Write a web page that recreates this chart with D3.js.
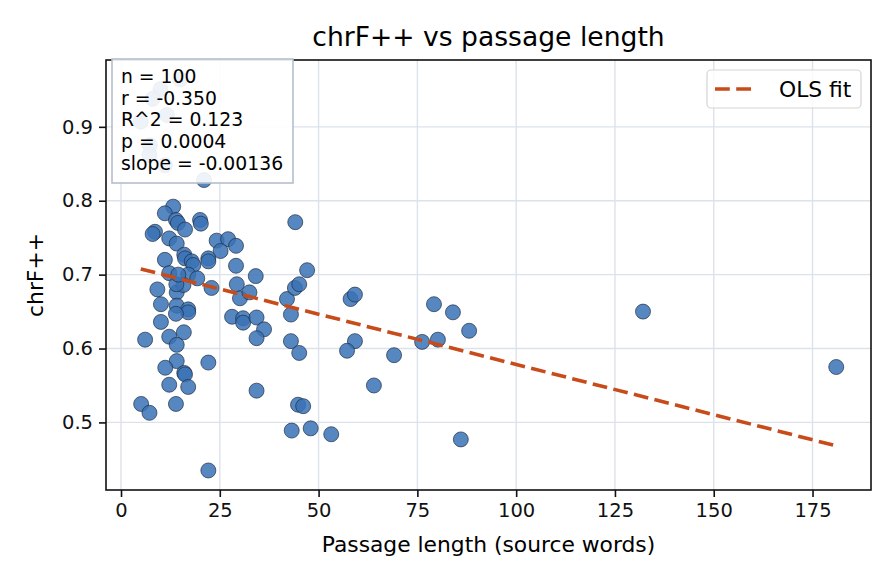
<!DOCTYPE html>
<html lang="en">
<head>
    <meta charset="UTF-8">
    <title>chrF++ vs passage length</title>
    <script src="https://d3js.org/d3.v7.min.js"></script>
    <style>
        body { margin: 0; background: #fff; }
        svg { font-family: "DejaVu Sans", sans-serif; }
    </style>
</head>
<body>
    <svg id="chart" width="896" height="584"></svg>

<script>
    // Data: passage length (source words) and chrF++
    var lengths = [
        15, 10, 8, 11.6, 5, 7.3, 7.2, 11.1,
        21, 13.2, 11.1, 13.9, 14.4, 20, 20.2, 16.2, 8.6, 8, 12.2, 14.1,
        24.2, 27.1, 25.2, 29.1, 11.1, 16, 16.2, 17.9, 18.3, 22.1, 22.1, 29.1,
        12.2, 17, 19.3, 34.1, 44.1, 47.1,
        9.2, 14.1, 15.8, 14, 22.9, 29.3, 30.1, 32.5, 10.1, 14.1, 17, 17, 13.9,
        28.1, 30.9, 30.9, 10.1, 15.9, 12.2, 6.1, 14.1, 14.1, 11.2, 16, 16.2,
        22.1, 12.2, 17, 5.1, 7.2, 13.9, 22.1,
        34.3, 36.2, 34.3, 42, 44, 45.1, 43, 43, 45.1, 34.3, 44.8, 46.1,
        58.1, 59.2, 59.2, 57.2, 64, 43.2, 48, 53.2,
        79.2, 84, 88.1, 76.2, 80.2, 69.1, 86, 132.1, 181, 14.5
    ];
    var scores = [
        0.964, 0.951, 0.938, 0.916, 0.907, 0.875, 0.862, 0.848,
        0.828, 0.792, 0.783, 0.774, 0.770, 0.774, 0.769, 0.761, 0.758, 0.755, 0.749, 0.742,
        0.746, 0.748, 0.732, 0.739, 0.720, 0.727, 0.722, 0.718, 0.713, 0.722, 0.718, 0.712,
        0.702, 0.700, 0.695, 0.698, 0.771, 0.706,
        0.680, 0.676, 0.686, 0.687, 0.682, 0.687, 0.668, 0.676, 0.660, 0.658, 0.653, 0.649, 0.647,
        0.643, 0.641, 0.635, 0.636, 0.622, 0.616, 0.612, 0.605, 0.583, 0.574, 0.567, 0.565,
        0.581, 0.551, 0.548, 0.525, 0.513, 0.525, 0.435,
        0.642, 0.626, 0.614, 0.667, 0.682, 0.687, 0.646, 0.610, 0.594, 0.543, 0.524, 0.522,
        0.667, 0.673, 0.610, 0.597, 0.550, 0.489, 0.492, 0.484,
        0.660, 0.649, 0.624, 0.609, 0.612, 0.591, 0.477, 0.650, 0.575, 0.700
    ];

    var xTicks = [0, 25, 50, 75, 100, 125, 150, 175];
    var yTicks = [0.5, 0.6, 0.7, 0.8, 0.9];

    // OLS fit, as printed in the stats box
    var fitSlope = -0.00136;
    var fitIntercept = 0.7145;
    var statsLines = ["n = 100", "r = -0.350", "R^2 = 0.123", "p = 0.0004", "slope = -0.00136"];

    var data = lengths.map(function(d, i) { return { x: d, y: scores[i] }; });

    var svg = d3.select("#chart"),
        margin = { top: 60, right: 25, bottom: 94, left: 106 },
        width = +svg.attr("width") - margin.left - margin.right,
        height = +svg.attr("height") - margin.top - margin.bottom;

    // matplotlib style 5% padding around the data
    function padded(ext) {
        var pad = (ext[1] - ext[0]) * 0.05;
        return [ext[0] - pad, ext[1] + pad];
    }

    var x = d3.scaleLinear()
        .domain(padded(d3.extent(lengths)))
        .range([margin.left, margin.left + width]);
    var y = d3.scaleLinear()
        .domain(padded(d3.extent(scores)))
        .range([margin.top + height, margin.top]);

    // grid
    var grid = svg.append("g");
    grid.selectAll(".gx")
        .data(xTicks)
        .enter()
        .append("line")
          .attr("x1", function(d) { return x(d); })
          .attr("x2", function(d) { return x(d); })
          .attr("y1", margin.top)
          .attr("y2", margin.top + height)
          .attr("stroke", "#dce2eb")
          .attr("stroke-width", 1.4);
    grid.selectAll(".gy")
        .data(yTicks)
        .enter()
        .append("line")
          .attr("x1", margin.left)
          .attr("x2", margin.left + width)
          .attr("y1", function(d) { return y(d); })
          .attr("y2", function(d) { return y(d); })
          .attr("stroke", "#dce2eb")
          .attr("stroke-width", 1.4);

    // points
    svg.append("g")
        .selectAll("circle")
        .data(data)
        .enter()
        .append("circle")
          .attr("cx", function(d) { return x(d.x); })
          .attr("cy", function(d) { return y(d.y); })
          .attr("r", 7.5)
          .attr("fill", "#3a72b5")
          .attr("fill-opacity", 0.85)
          .attr("stroke", "#1c2b40")
          .attr("stroke-opacity", 0.85)
          .attr("stroke-width", 0.8);

    // fit line, across the data range
    var xr = d3.extent(lengths);
    svg.append("line")
        .attr("x1", x(xr[0]))
        .attr("x2", x(xr[1]))
        .attr("y1", y(fitIntercept + fitSlope * xr[0]))
        .attr("y2", y(fitIntercept + fitSlope * xr[1]))
        .attr("stroke", "#c84b1a")
        .attr("stroke-width", 3.6)
        .attr("stroke-dasharray", "14.8,6.4");

    // axes
    var xAxis = svg.append("g")
        .attr("transform", "translate(0," + (margin.top + height) + ")")
        .call(d3.axisBottom(x).tickValues(xTicks).tickSize(7).tickPadding(6));
    var yAxis = svg.append("g")
        .attr("transform", "translate(" + margin.left + ",0)")
        .call(d3.axisLeft(y).tickValues(yTicks).tickFormat(d3.format(".1f")).tickSize(7).tickPadding(6));

    [xAxis, yAxis].forEach(function(a) {
        a.select(".domain").remove();
        a.selectAll(".tick line").attr("stroke", "#111").attr("stroke-width", 1.6);
        a.selectAll(".tick text")
            .attr("fill", "#111")
            .style("font-size", "19.5px")
            .style("font-family", "DejaVu Sans");
    });

    // frame
    svg.append("rect")
        .attr("x", margin.left)
        .attr("y", margin.top)
        .attr("width", width)
        .attr("height", height)
        .attr("fill", "none")
        .attr("stroke", "#111")
        .attr("stroke-width", 1.6);

    // title and labels
    svg.append("text")
        .attr("x", margin.left + width / 2)
        .attr("y", 46)
        .attr("text-anchor", "middle")
        .style("font-size", "26.6px")
        .text("chrF++ vs passage length");
    svg.append("text")
        .attr("x", margin.left + width / 2)
        .attr("y", 552)
        .attr("text-anchor", "middle")
        .style("font-size", "21.8px")
        .text("Passage length (source words)");
    svg.append("text")
        .attr("transform", "translate(43," + (margin.top + height / 2) + ") rotate(-90)")
        .attr("text-anchor", "middle")
        .style("font-size", "21.8px")
        .text("chrF++");

    // stats box
    var box = svg.append("g");
    box.append("rect")
        .attr("x", 112)
        .attr("y", 59)
        .attr("width", 181)
        .attr("height", 124)
        .attr("fill", "#fff")
        .attr("fill-opacity", 0.9)
        .attr("stroke", "#b3bfcd")
        .attr("stroke-width", 1.6);
    box.selectAll("text")
        .data(statsLines)
        .enter()
        .append("text")
          .attr("x", 121)
          .attr("y", function(d, i) { return 83 + i * 21.7; })
          .style("font-size", "18.8px")
          .text(function(d) { return d; });

    // legend
    var leg = svg.append("g");
    leg.append("rect")
        .attr("x", 707)
        .attr("y", 70)
        .attr("width", 154)
        .attr("height", 38)
        .attr("rx", 4)
        .attr("fill", "#fff")
        .attr("fill-opacity", 0.8)
        .attr("stroke", "#d5d5d5")
        .attr("stroke-width", 1.2);
    leg.append("line")
        .attr("x1", 715)
        .attr("x2", 757)
        .attr("y1", 89)
        .attr("y2", 89)
        .attr("stroke", "#c84b1a")
        .attr("stroke-width", 3.6)
        .attr("stroke-dasharray", "14.8,6.4");
    leg.append("text")
        .attr("x", 779)
        .attr("y", 97)
        .style("font-size", "21.8px")
        .text("OLS fit");
</script>
</body>
</html>
